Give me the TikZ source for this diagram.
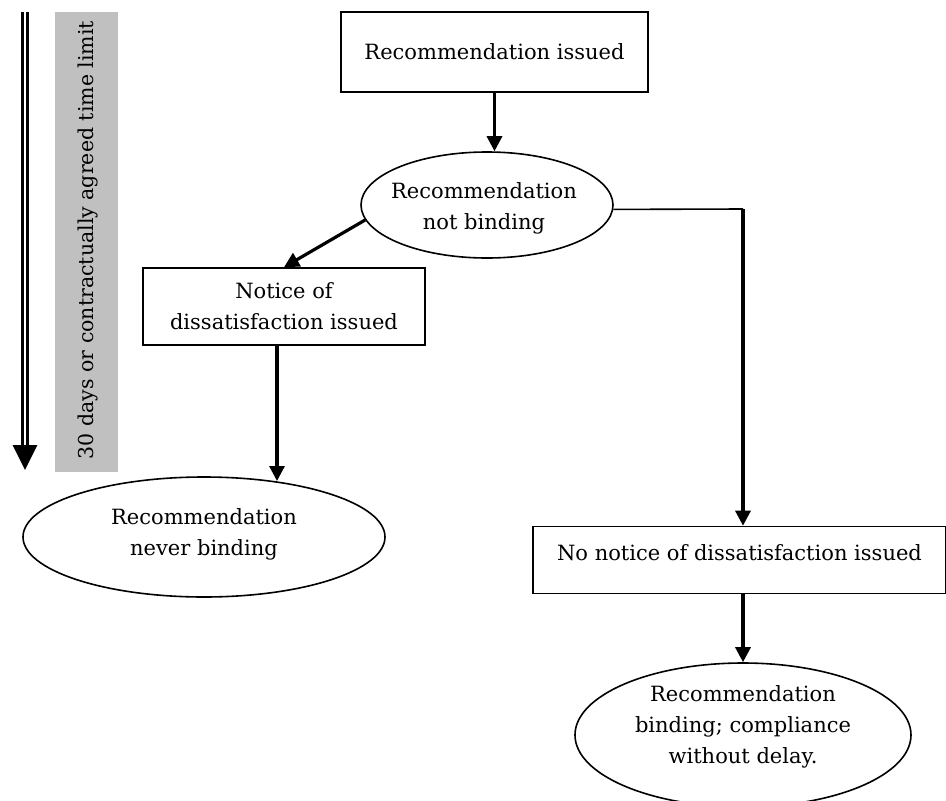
\documentclass[tikz,border=0pt]{standalone}
\usepackage{fontspec}
\setmainfont{DejaVu Serif}
\usetikzlibrary{arrows.meta,shapes.geometric,calc}
\definecolor{limgray}{HTML}{C0C0C0}
\begin{document}
\begin{tikzpicture}[x=1pt,y=-1pt,
  txt/.style={font=\fontsize{21}{31}\selectfont, align=center},
  boxnode/.style={draw, line width=1.6pt, txt, inner sep=0pt},
  ellnode/.style={draw, ellipse, line width=1.6pt, inner sep=0pt},
  flow/.style={line width=3.2pt, -{Triangle[length=15pt,width=15pt]}},
  plain/.style={line width=1.6pt}]
\useasboundingbox (0,0) rectangle (946,801);
\clip (0,0) rectangle (946,801);
% time limit bar
\fill[limgray] (55,12) rectangle (118,472);
\node[rotate=90, txt, font=\fontsize{20.5}{31}\selectfont] (lim) at (88,240) {30 days or contractually agreed time limit};
\coordinate (ts) at (25,12);
\coordinate (te) at (25,470);
\draw[line width=3pt, double distance=2.5pt, -{Triangle[length=25pt,width=24pt]}] (ts) -- (te);
% nodes
\node[boxnode, minimum width=307pt, minimum height=80pt] (b1) at (494.5,52) {Recommendation issued};
\node[ellnode, minimum width=252pt, minimum height=106pt] (e1) at (487,205) {};
\node[txt] (e1t) at (484,208) {Recommendation\\not binding};
\node[boxnode, minimum width=282pt, minimum height=77pt] (b2) at (284,306.5) {Notice of\\dissatisfaction issued};
\node[ellnode, minimum width=362pt, minimum height=120pt] (e3) at (204,537) {};
\node[txt] (e3t) at (204,534) {Recommendation\\never binding};
\node[boxnode, minimum width=413pt, minimum height=67pt] (b3) at (739.5,560) {};
\node[txt] (b3t) at (739.5,553) {No notice of dissatisfaction issued};
\node[ellnode, minimum width=336pt, minimum height=144pt] (e4) at (743,735) {};
\node[txt] (e4t) at (743,727) {Recommendation\\binding; compliance\\without delay.};
% connectors
\coordinate (c1) at (743,209);
\coordinate (d2) at (277,481);
\draw[flow] (b1.south) -- (b1.south |- e1.north);
\draw[flow] (e1.187) -- (b2.north);
\draw[plain] (e1.-2) -- (c1);
\draw[flow] (c1) -- (c1 |- b3.north);
\draw[flow] (b2.south -| d2) -- (d2);
\draw[flow] (b3.south -| e4.north) -- (e4.north);
\end{tikzpicture}
\end{document}
